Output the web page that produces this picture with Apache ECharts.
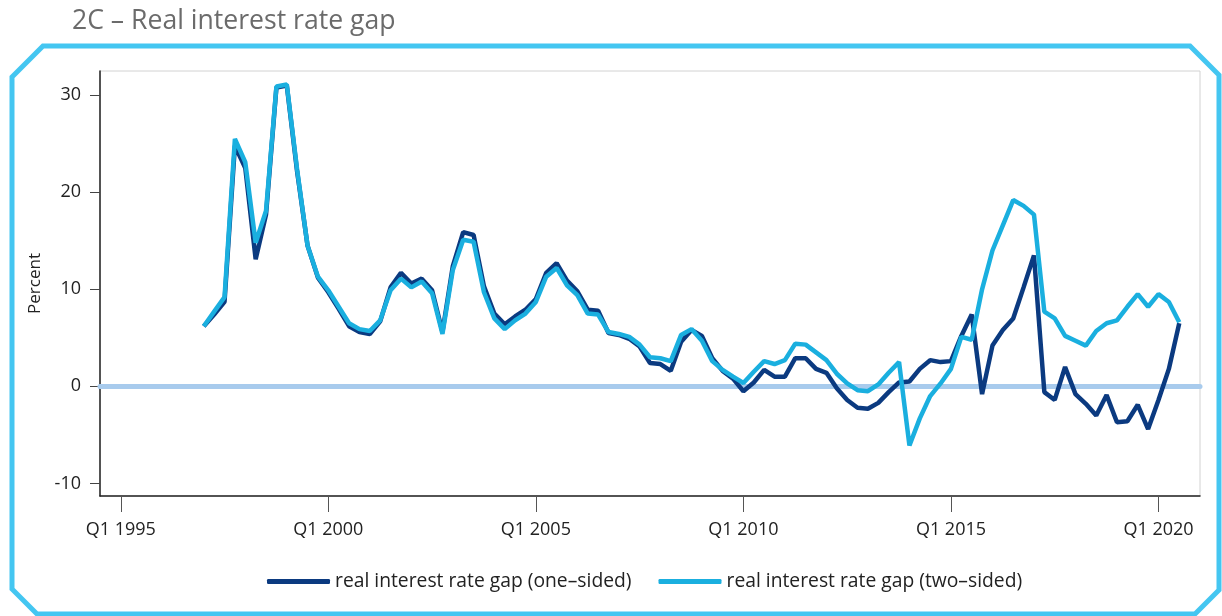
<!DOCTYPE html>
<html>
<head>
<meta charset="utf-8">
<script src="https://cdn.jsdelivr.net/npm/echarts@6/dist/echarts.min.js"></script>
<style>
html,body{margin:0;padding:0;background:#fff;}
#c{width:1222px;height:616px;}
</style>
</head>
<body>
<div id="c"></div>
<script>
// Quarterly data, Q1 1997 .. Q3 2020
var firstYear = 1997;
var oneSided = [
 6.2, 7.4, 8.7, 24.8, 22.5, 13.1, 17.7, 30.8, 31.0, 22.1, 14.5, 11.2,
 9.7, 8.0, 6.2, 5.6, 5.4, 6.7, 10.2, 11.7, 10.6, 11.1, 9.9, 5.6,
 12.4, 15.9, 15.6, 10.3, 7.5, 6.4, 7.2, 7.9, 9.0, 11.7, 12.7, 10.9,
 9.8, 7.9, 7.8, 5.5, 5.3, 4.9, 4.1, 2.4, 2.3, 1.6, 4.6, 5.8,
 5.2, 2.9, 1.6, 0.8, -0.5, 0.4, 1.7, 1.0, 1.0, 2.9, 2.9, 1.8,
 1.4, -0.2, -1.4, -2.2, -2.3, -1.7, -0.6, 0.4, 0.5, 1.8, 2.7, 2.5,
 2.6, 5.2, 7.4, -0.8, 4.2, 5.8, 7.0, 10.2, 13.5, -0.6, -1.4, 2.0,
 -0.8, -1.8, -3.0, -0.9, -3.7, -3.6, -1.9, -4.4, -1.4, 1.8, 6.5
];
var twoSided = [
 6.2, 7.7, 9.2, 25.5, 23.1, 14.8, 18.1, 30.9, 31.1, 22.3, 14.5, 11.3,
 9.9, 8.2, 6.5, 5.9, 5.7, 6.8, 9.9, 11.1, 10.2, 10.8, 9.6, 5.4,
 12.0, 15.1, 14.9, 9.7, 7.0, 5.9, 6.8, 7.5, 8.7, 11.3, 12.2, 10.4,
 9.4, 7.5, 7.4, 5.6, 5.4, 5.1, 4.3, 3.0, 2.9, 2.6, 5.3, 5.9,
 4.7, 2.6, 1.7, 1.0, 0.35, 1.5, 2.6, 2.3, 2.7, 4.4, 4.3, 3.5,
 2.7, 1.3, 0.3, -0.4, -0.5, 0.2, 1.4, 2.5, -6.1, -3.3, -1.0, 0.3,
 1.8, 5.1, 4.8, 10.0, 14.0, 16.6, 19.2, 18.6, 17.7, 7.7, 7.0, 5.2,
 4.7, 4.2, 5.7, 6.5, 6.8, 8.2, 9.5, 8.2, 9.5, 8.7, 6.6
];
var yTicks = [-10, 0, 10, 20, 30];
var xTickYears = [1995, 2000, 2005, 2010, 2015, 2020];
var seriesNames = ['real interest rate gap (one\u2013sided)', 'real interest rate gap (two\u2013sided)'];

// category axis: Q3 1994 .. Q1 2021
var categories = [];
for (var y = 1994; y <= 2021; y++) {
  for (var q = 1; q <= 4; q++) {
    if (y === 1994 && q < 3) continue;
    if (y === 2021 && q > 1) continue;
    categories.push('Q' + q + ' ' + y);
  }
}
var tickLabels = xTickYears.map(function (yr) { return 'Q1 ' + yr; });
function pad(arr) {
  var start = categories.indexOf('Q1 ' + firstYear);
  var out = [];
  for (var i = 0; i < categories.length; i++) {
    var k = i - start;
    out.push(k >= 0 && k < arr.length ? arr[k] : null);
  }
  return out;
}
function showTick(idx, val) { return tickLabels.indexOf(categories[idx]) >= 0; }

var FONT = 'Open Sans';
var chart = echarts.init(document.getElementById('c'), null, {renderer: 'canvas'});
chart.setOption({
  animation: false,
  backgroundColor: '#fff',
  title: {
    text: '2C \u2013 Real interest rate gap',
    left: 67, top: 3,
    textStyle: {fontFamily: FONT, fontSize: 26.6, fontWeight: 'normal', color: '#6b6b6b'}
  },
  graphic: [{
    type: 'polygon',
    shape: {points: [[43,46],[1190,46],[1219,75],[1219,590],[1195,614],[37,614],[12,589],[12,77]]},
    style: {fill: 'none', stroke: '#44c6f1', lineWidth: 5},
    silent: true, z: -1
  }],
  grid: {left: 100, right: 22, top: 71, bottom: 120, show: true, borderColor: '#d2d2d2', borderWidth: 1},
  legend: {
    left: 262, top: 567,
    itemWidth: 63, itemHeight: 5, itemGap: 27,
    icon: 'roundRect',
    textStyle: {fontFamily: FONT, fontSize: 19.3, color: '#222'},
    data: seriesNames
  },
  xAxis: {
    type: 'category',
    data: categories,
    boundaryGap: false,
    axisLine: {onZero: false, lineStyle: {color: '#222', width: 1.5}},
    axisTick: {show: true, interval: showTick, length: 16, lineStyle: {color: '#555', width: 1}},
    axisLabel: {interval: showTick, margin: 25, fontFamily: FONT, fontSize: 18, color: '#222'},
    splitLine: {show: false}
  },
  yAxis: {
    type: 'value',
    min: -11.3, max: 32.5,
    name: 'Percent', nameLocation: 'middle', nameGap: 50, nameRotate: 90,
    nameTextStyle: {fontFamily: FONT, fontSize: 17, color: '#222'},
    axisLine: {show: true, lineStyle: {color: '#222', width: 1.5}},
    axisTick: {show: true, length: 10, customValues: yTicks, lineStyle: {color: '#444'}},
    axisLabel: {customValues: yTicks, margin: 19, fontFamily: FONT, fontSize: 18, color: '#222'},
    splitLine: {show: false}
  },
  series: [{
    name: seriesNames[0],
    type: 'line',
    data: pad(oneSided),
    showSymbol: false, symbol: 'none',
    color: '#0b3a80',
    lineStyle: {width: 4.5, color: '#0b3a80'},
    markLine: {
      silent: true, symbol: 'none', label: {show: false},
      lineStyle: {color: '#a8cbed', width: 5, type: 'solid', cap: 'round'},
      data: [{yAxis: 0}],
      z: 1
    },
    z: 2
  }, {
    name: seriesNames[1],
    type: 'line',
    data: pad(twoSided),
    showSymbol: false, symbol: 'none',
    color: '#1aafdf',
    lineStyle: {width: 4.5, color: '#1aafdf'},
    z: 3
  }]
});
</script>
</body>
</html>
